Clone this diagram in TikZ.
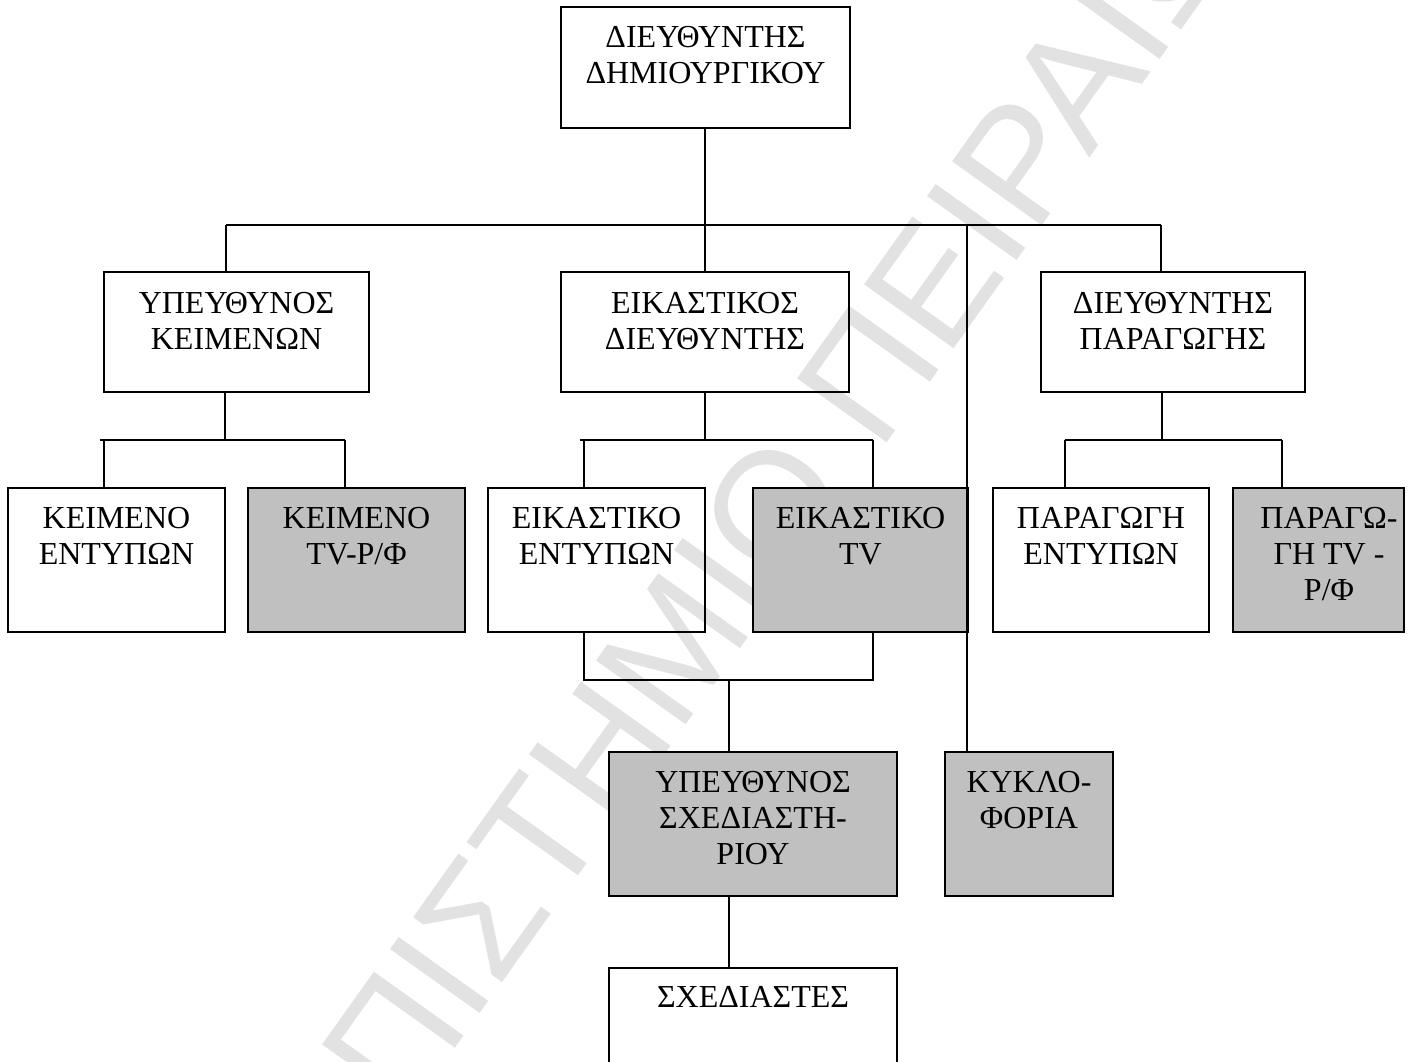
\documentclass[tikz,border=0pt]{standalone}
\usepackage{fontspec}
\setmainfont{Liberation Serif}
\newfontfamily\wmfont{Liberation Sans}
\definecolor{boxgray}{RGB}{192,192,192}
\definecolor{wmgray}{RGB}{226,226,226}
\newcommand\mylines[1]{\parbox[t]{300pt}{\centering #1}}
\tikzset{
  orgbox/.style={draw=black, line width=2.2pt, inner sep=0pt, outer sep=0pt},
  graybox/.style={orgbox, fill=boxgray},
  lbl/.style={inner sep=0pt, anchor=base, font=\fontsize{32}{36}\selectfont},
  conn/.style={draw=black, line width=1.7pt},
  wm/.style={inner sep=0pt, anchor=base west, rotate=54.5, text=wmgray, font=\wmfont\fontsize{160}{160}\selectfont}
}
\begin{document}
\begin{tikzpicture}[x=1pt,y=-1pt]
\useasboundingbox (0,0) rectangle (1413,1062);
\fill[white] (0,0) rectangle (1413,1062);
\clip (0,0) rectangle (1413,1062);

% watermark
\node[wm] (wmark) at (404,1120) {ΠΙΣΤΗΜΙΟ ΠΕΙΡΑΙΩΣ};

% boxes
\node[orgbox, minimum width=289pt, minimum height=121pt] (A) at (705.5,67.5) {};
\node[orgbox, minimum width=265pt, minimum height=120pt] (B1) at (236.5,332) {};
\node[orgbox, minimum width=288pt, minimum height=120pt] (B2) at (705,332) {};
\node[orgbox, minimum width=264pt, minimum height=120pt] (B3) at (1173,332) {};
\node[orgbox, minimum width=217pt, minimum height=144pt] (C1) at (116.5,560) {};
\node[graybox, minimum width=217pt, minimum height=144pt] (C2) at (356.5,560) {};
\node[orgbox, minimum width=217pt, minimum height=144pt] (C3) at (596.5,560) {};
\node[graybox, minimum width=215pt, minimum height=144pt] (C4) at (860.5,560) {};
\node[orgbox, minimum width=216pt, minimum height=144pt] (C5) at (1101,560) {};
\node[graybox, minimum width=171pt, minimum height=144pt] (C6) at (1318.5,560) {};
\node[graybox, minimum width=288pt, minimum height=144pt] (D1) at (753,824) {};
\node[graybox, minimum width=168pt, minimum height=144pt] (D2) at (1029,824) {};
\node[orgbox, minimum width=288pt, minimum height=130pt] (E1) at (753,1033) {};

% connector coordinates
\coordinate (h1) at (226,225);
\coordinate (h2) at (705,225);
\coordinate (h3) at (967,225);
\coordinate (h4) at (1161,225);
\coordinate (hB1a) at (100,440);
\coordinate (hB1) at (225,440);
\coordinate (kC1) at (104,440);
\coordinate (kC2) at (345,440);
\coordinate (hB2a) at (580,440);
\coordinate (hB2) at (705,440);
\coordinate (kC3) at (584,440);
\coordinate (kC4) at (873,440);
\coordinate (hB3) at (1162,440);
\coordinate (kC5) at (1065,440);
\coordinate (kC6) at (1282,440);
\coordinate (jC3) at (584,680);
\coordinate (jC4) at (873,680);
\coordinate (jD) at (729,680);

% connectors
\draw[conn] (A.south -| h2) -- (h2);
\draw[conn] (h1) -- (h4);
\draw[conn] (h1) -- (h1 |- B1.north);
\draw[conn] (h2) -- (h2 |- B2.north);
\draw[conn] (h3) -- (h3 |- D2.north);
\draw[conn] (h4) -- (h4 |- B3.north);

\draw[conn] (hB1 |- B1.south) -- (hB1);
\draw[conn] (hB1a) -- (kC2);
\draw[conn] (kC1) -- (kC1 |- C1.north);
\draw[conn] (kC2) -- (kC2 |- C2.north);

\draw[conn] (hB2 |- B2.south) -- (hB2);
\draw[conn] (hB2a) -- (kC4);
\draw[conn] (kC3) -- (kC3 |- C3.north);
\draw[conn] (kC4) -- (kC4 |- C4.north);

\draw[conn] (hB3 |- B3.south) -- (hB3);
\draw[conn] (kC5) -- (kC6);
\draw[conn] (kC5) -- (kC5 |- C5.north);
\draw[conn] (kC6) -- (kC6 |- C6.north);

\draw[conn] (jC3 |- C3.south) -- (jC3) -- (jC4) -- (jC4 |- C4.south);
\draw[conn] (jD) -- (jD |- D1.north);
\draw[conn] (jD |- D1.south) -- (jD |- E1.north);

% texts
\node[lbl] (tA) at (705.5,48) {\mylines{ΔΙΕΥΘΥΝΤΗΣ\\ΔΗΜΙΟΥΡΓΙΚΟΥ}};
\node[lbl] (tB1) at (236.5,313) {\mylines{ΥΠΕΥΘΥΝΟΣ\\ΚΕΙΜΕΝΩΝ}};
\node[lbl] (tB2) at (705,313) {\mylines{ΕΙΚΑΣΤΙΚΟΣ\\ΔΙΕΥΘΥΝΤΗΣ}};
\node[lbl] (tB3) at (1173,313) {\mylines{ΔΙΕΥΘΥΝΤΗΣ\\ΠΑΡΑΓΩΓΗΣ}};
\node[lbl] (tC1) at (116.5,528) {\mylines{ΚΕΙΜΕΝΟ\\ΕΝΤΥΠΩΝ}};
\node[lbl] (tC2) at (356.5,528) {\mylines{ΚΕΙΜΕΝΟ\\TV-Ρ/Φ}};
\node[lbl] (tC3) at (596.5,528) {\mylines{ΕΙΚΑΣΤΙΚΟ\\ΕΝΤΥΠΩΝ}};
\node[lbl] (tC4) at (860.5,528) {\mylines{ΕΙΚΑΣΤΙΚΟ\\TV}};
\node[lbl] (tC5) at (1101,528) {\mylines{ΠΑΡΑΓΩΓΗ\\ΕΝΤΥΠΩΝ}};
\node[lbl] (tC6) at (1329,528) {\mylines{ΠΑΡΑΓΩ-\\ΓΗ TV -\\Ρ/Φ}};
\node[lbl] (tD1) at (753,792) {\mylines{ΥΠΕΥΘΥΝΟΣ\\ΣΧΕΔΙΑΣΤΗ-\\ΡΙΟΥ}};
\node[lbl] (tD2) at (1029,792) {\mylines{ΚΥΚΛΟ-\\ΦΟΡΙΑ}};
\node[lbl] (tE1) at (753,1007) {\mylines{ΣΧΕΔΙΑΣΤΕΣ}};
\end{tikzpicture}
\end{document}
